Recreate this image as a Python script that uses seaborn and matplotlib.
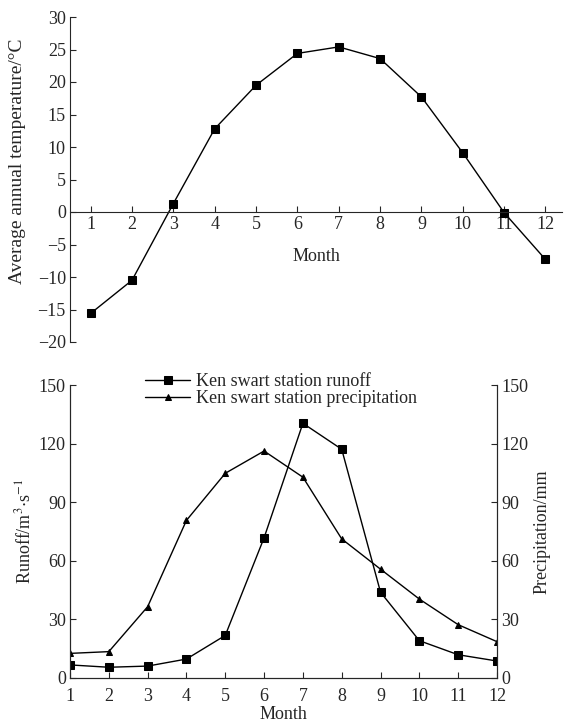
import matplotlib
matplotlib.use('Agg')
import matplotlib.pyplot as plt
import seaborn as sns
import pandas as pd

months = list(range(1, 13))
temperature = [-15.6, -10.5, 1.3, 12.8, 19.5, 24.4, 25.4, 23.6, 17.7, 9.1, -0.1, -7.3]
runoff = [6.7, 5.5, 6.1, 9.7, 21.8, 71.8, 130.4, 117.1, 43.9, 19.1, 11.9, 8.7]
precipitation = [12.6, 13.5, 36.5, 80.7, 104.8, 116.2, 102.8, 71.2, 55.7, 40.4, 27.3, 18.6]

sns.set_style('ticks')
plt.rcParams['font.family'] = ['Liberation Serif', 'DejaVu Serif']
plt.rcParams['mathtext.fontset'] = 'stix'
plt.rcParams['font.size'] = 13

df = pd.DataFrame({'month': months, 'temp': temperature, 'runoff': runoff, 'precip': precipitation})

fig = plt.figure(figsize=(5.66, 7.24), dpi=100)

# top: temperature
ax1 = fig.add_axes([70 / 566, 1 - 342 / 724, (562 - 70) / 566, 325 / 724])
sns.lineplot(data=df, x='month', y='temp', marker='s', markersize=6, color='black',
             linewidth=1, markeredgecolor='black', ax=ax1)
ax1.set_xlim(0.5, 12.4)
ax1.set_ylim(-20, 30)
ax1.set_yticks(range(-20, 31, 5))
ax1.set_yticklabels([str(v).replace('-', '\u2212') for v in range(-20, 31, 5)])
ax1.set_xticks(months)
ax1.spines['bottom'].set_position(('data', 0))
ax1.spines['top'].set_visible(False)
ax1.spines['right'].set_visible(False)
ax1.tick_params(direction='in', length=4, width=0.8, pad=3)
ax1.set_xlabel('Month', labelpad=11)
ax1.set_ylabel('Average annual temperature/\u00b0C', fontsize=14)
ax1.yaxis.set_label_coords(-0.089, 0.555)

# bottom: runoff and precipitation
ax2 = fig.add_axes([70 / 566, 1 - 678 / 724, (497 - 70) / 566, 293 / 724])
ax3 = ax2.twinx()
sns.lineplot(data=df, x='month', y='runoff', marker='s', markersize=6, color='black',
             linewidth=1, markeredgecolor='black', ax=ax2, label='Ken swart station runoff', legend=False)
sns.lineplot(data=df, x='month', y='precip', marker='^', markersize=5, color='black',
             linewidth=1, markeredgecolor='black', ax=ax3, label='Ken swart station precipitation', legend=False)
for a in (ax2, ax3):
    a.set_xlim(1, 12)
    a.set_ylim(0, 150)
    a.set_yticks(range(0, 151, 30))
    a.spines['top'].set_visible(False)
    a.tick_params(direction='in', length=4, width=0.8, pad=3)
ax2.tick_params(axis='x', pad=7)
ax2.set_xticks(months)
ax2.set_xlabel('Month', labelpad=1)
ax2.set_ylabel('Runoff/m$^3$$\\cdot$s$^{-1}$', labelpad=3)
ax3.set_ylabel('Precipitation/mm', labelpad=4)

handles = ax2.get_lines()[:1] + ax3.get_lines()[:1]
ax2.legend(handles, [h.get_label() for h in handles], loc='upper left',
           bbox_to_anchor=(145 / 566, 1 - 373 / 724), bbox_transform=fig.transFigure,
           frameon=False, handlelength=2.5, handletextpad=0.3, labelspacing=0.0, borderpad=0,
           borderaxespad=0, fontsize=13)

fig.savefig('out.png', dpi=100)
